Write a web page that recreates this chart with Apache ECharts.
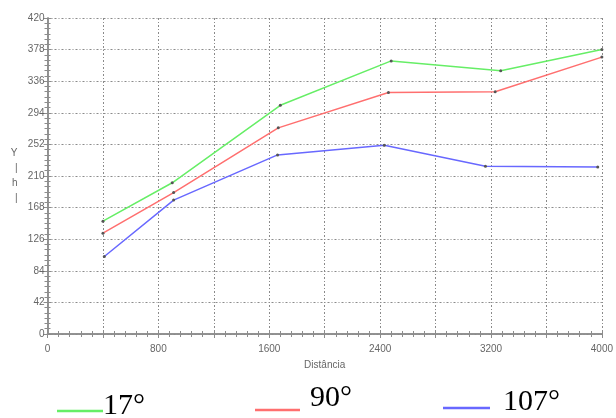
<!DOCTYPE html>
<html>
<head>
<meta charset="utf-8">
<script src="https://cdn.jsdelivr.net/npm/echarts@6/dist/echarts.min.js"></script>
<style>html,body{margin:0;padding:0;background:#fff}#c{width:616px;height:418px}</style>
</head>
<body>
<div id="c"></div>
<script>
// Data
var seriesNames = ['17°', '90°', '107°'];
var x17 = [400, 900, 1680, 2480, 3270, 4000];
var y17 = [150, 201, 304, 363, 350, 378];
var x90 = [400, 910, 1665, 2460, 3230, 4000];
var y90 = [134, 188, 274, 321, 322, 368];
var x107 = [410, 910, 1660, 2430, 3160, 3970];
var y107 = [103, 178, 238, 251, 223, 222];
var xTickLabels = [0, 800, 1600, 2400, 3200, 4000];
var yTickLabels = [0, 42, 84, 126, 168, 210, 252, 294, 336, 378, 420];
var colors = ['#66ee66', '#ff6f6f', '#6868ff'];

function pairs(xs, ys) { return xs.map(function (x, i) { return [x, ys[i]]; }); }

var chart = echarts.init(document.getElementById('c'), null, {renderer: 'canvas'});
var gridLine = {show: true, lineStyle: {color: '#8a8a8a', width: 1, type: [2, 2, 1, 2]}};
var axisLine = {show: true, lineStyle: {color: '#8c8c8c', width: 1.5}};
var labelStyle = {color: '#666', fontSize: 10, fontFamily: 'Liberation Sans, Arial, sans-serif'};

var series = [[x17, y17], [x90, y90], [x107, y107]].map(function (d, i) {
  return {
    name: seriesNames[i], type: 'line', data: pairs(d[0], d[1]),
    symbol: 'circle', symbolSize: 3, showSymbol: true,
    itemStyle: {color: '#555'},
    lineStyle: {color: colors[i], width: 1.5},
    animation: false, z: 3
  };
});

var legendX = [[57, 103, 411, 103, 406], [255, 300, 410, 310, 398], [443, 490, 408, 503, 402]];
var graphics = [];
seriesNames.forEach(function (n, i) {
  var p = legendX[i];
  graphics.push({type: 'line', shape: {x1: p[0], y1: p[2], x2: p[1], y2: p[2]}, style: {stroke: colors[i], lineWidth: 2.5}});
  graphics.push({type: 'text', x: p[3], y: p[4], style: {text: n, fill: '#000', font: '30px "Liberation Serif", "Times New Roman", serif', textVerticalAlign: 'middle', verticalAlign: 'middle'}});
});

chart.setOption({
  animation: false,
  grid: {left: 47.5, right: 14, top: 18, bottom: 84},
  xAxis: [{
    type: 'value', min: 0, max: 4000, interval: 400,
    name: 'Distância', nameLocation: 'middle', nameGap: 26,
    nameTextStyle: {color: '#666', fontSize: 10, fontFamily: 'Liberation Sans, Arial, sans-serif'},
    axisLine: axisLine,
    axisTick: {show: true, inside: true, length: 4, lineStyle: {color: '#8c8c8c'}},
    minorTick: {show: true, splitNumber: 5, length: 3, lineStyle: {color: '#8c8c8c'}},
    splitLine: gridLine,
    axisLabel: Object.assign({margin: 10, formatter: function (v) { return xTickLabels.indexOf(v) >= 0 ? String(v) : ''; }}, labelStyle)
  }, {
    type: 'value', position: 'top', min: 0, max: 4000, interval: 400,
    axisLine: axisLine,
    axisTick: {show: true, inside: true, length: 4, lineStyle: {color: '#8c8c8c'}},
    minorTick: {show: true, splitNumber: 5, length: 3, lineStyle: {color: '#8c8c8c'}},
    splitLine: {show: false}, axisLabel: {show: false}
  }],
  yAxis: [{
    type: 'value', min: 0, max: 420, interval: 42,
    name: 'Y\n|\nh\n|', nameLocation: 'middle', nameRotate: 0, nameGap: 30,
    nameTextStyle: {color: '#666', fontSize: 10, lineHeight: 15, padding: [0, 0, 10, 0], fontFamily: 'Liberation Sans, Arial, sans-serif'},
    axisLine: axisLine,
    axisTick: {show: true, inside: true, length: 4, lineStyle: {color: '#8c8c8c'}},
    minorTick: {show: true, splitNumber: 6, length: 3, lineStyle: {color: '#8c8c8c'}},
    splitLine: gridLine,
    axisLabel: Object.assign({margin: 3, formatter: function (v) { return yTickLabels.indexOf(v) >= 0 ? String(v) : ''; }}, labelStyle)
  }, {
    type: 'value', position: 'right', min: 0, max: 420, interval: 42,
    axisLine: axisLine,
    axisTick: {show: true, inside: true, length: 4, lineStyle: {color: '#8c8c8c'}},
    minorTick: {show: true, splitNumber: 6, length: 3, lineStyle: {color: '#8c8c8c'}},
    splitLine: {show: false}, axisLabel: {show: false}
  }],
  graphic: graphics,
  series: series
});
</script>
</body>
</html>
